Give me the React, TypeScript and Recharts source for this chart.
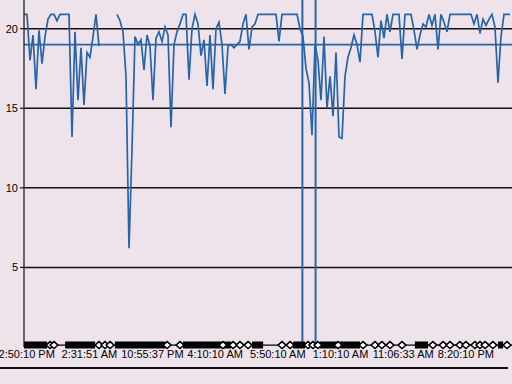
import React from "react";
import {
  ComposedChart,
  Line,
  XAxis,
  YAxis,
  CartesianGrid,
  ReferenceLine,
} from "recharts";

// main series, one reading per step (null = gap in the record)
const levelValues: (number | null)[] = [
  20.9, 20.9, 18.0, 19.6, 16.2, 19.9, 17.8, 19.5, 20.6, 20.9,
  20.9, 20.5, 20.9, 20.9, 20.9, 20.9, 13.2, 19.8, 15.5, 18.8,
  15.2, 18.5, 18.2, 19.5, 20.9, 18.9, null, null, null, null,
  null, 20.9, 20.5, 19.8, 17.0, 6.2, 12.4, 19.5, 19.0, 19.3,
  17.4, 19.6, 18.9, 15.5, 19.4, 19.8, 19.2, 20.1, 19.6, 13.8,
  19.0, 19.8, 20.3, 20.9, 20.9, 16.8, 20.0, 20.9, 20.3, 18.3,
  19.3, 16.4, 19.6, 16.2, 20.0, 20.4, 19.0, 15.9, 18.9, 19.0,
  18.8, 19.0, 19.2, 20.3, 20.9, 18.7, 20.1, 20.3, 20.9, 20.9,
  20.9, 20.9, 20.9, 20.9, 20.9, 19.2, 20.9, 20.9, 20.9, 20.9,
  20.9, 20.9, 20.0, 19.5, 17.5, 16.6, 13.3, 19.0, 18.0, 15.5,
  19.5, 15.0, 17.0, 14.5, 18.5, 13.2, 13.1, 17.0, 18.2, 18.8,
  19.6, 19.0, 17.9, 20.9, 20.9, 20.9, 20.9, 19.8, 18.2, 20.5,
  19.4, 20.9, 19.8, 20.9, 20.9, 20.9, 18.1, 20.9, 20.9, 20.9,
  19.9, 18.7, 19.6, 20.3, 20.1, 20.9, 20.2, 20.9, 18.7, 20.9,
  20.4, 19.8, 20.9, 20.9, 20.9, 20.9, 20.9, 20.9, 20.9, 20.9,
  20.3, 20.9, 19.7, 20.6, 20.2, 20.6, 20.9, 20.1, 16.6, 19.5,
  20.9, 20.9, 20.9,
];

const thresholdValue = 19;
const eventPositions = [92.8, 97.2];

const tickPositions = [0.9, 21.8, 42.8, 63.7, 84.6, 105.5, 126.4, 147.3];
const tickLabels = [
  "2:50:10 PM",
  "2:31:51 AM",
  "10:55:37 PM",
  "4:10:10 AM",
  "5:50:10 AM",
  "1:10:10 AM",
  "11:06:33 AM",
  "8:20:10 PM",
];
const yTicks = [5, 10, 15, 20];

// event markers along the time axis
const denseStarts = [0, 13.7, 30.3, 53, 76, 89.7, 98.7, 105.3, 130.3, 158];
const denseEnds = [7.7, 23.7, 47, 69, 79.7, 93.7, 104.3, 112, 134.7, 159.7];
const markerPositions = [
  8.7, 10, 25, 27, 28.7, 47.7, 52, 66.3, 69.7, 72, 74.7, 86, 88.7, 94.7,
  96.3, 98, 104.7, 113, 117, 119.3, 122, 126, 136.3, 139.7, 142, 145.3,
  147.3, 150.3, 152, 153.7, 156.3, 161,
];

const X_MAX = 162.67;
const MARK_Y = 0.12;

const levelData = levelValues.map((v, i) => ({ x: i, v }));
const bandData: { x: number; m: number | null }[] = [];
denseStarts.forEach((s, k) => {
  bandData.push({ x: s, m: MARK_Y });
  bandData.push({ x: denseEnds[k], m: MARK_Y });
  bandData.push({ x: denseEnds[k] + 0.01, m: null });
});
const baseData = [
  { x: 0, m: MARK_Y },
  { x: X_MAX, m: MARK_Y },
];
const markerData = markerPositions.map((x) => ({ x, m: MARK_Y }));

const BLUE = "#2764a8";
const FONT = "'Liberation Sans', Arial, sans-serif";

const Diamond = (props: any) => {
  const { cx, cy, index } = props;
  if (cx == null || cy == null) return <g key={`d${index}`} />;
  const w = 4;
  const h = 3.5;
  return (
    <polygon
      key={`d${index}`}
      points={`${cx - w},${cy} ${cx},${cy - h} ${cx + w},${cy} ${cx},${cy + h}`}
      fill="#ffffff"
      stroke="#000000"
      strokeWidth={1.5}
    />
  );
};

export default function App() {
  return (
    <div
      style={{
        position: "absolute",
        left: 0,
        top: 0,
        width: 512,
        height: 384,
        background: "#efe3eb",
        overflow: "hidden",
      }}
    >
      <ComposedChart
        width={512}
        height={368}
        margin={{ top: 0, right: 0, bottom: 0, left: 0 }}
      >
        <CartesianGrid
          vertical={false}
          stroke="#111111"
          strokeWidth={1.5}
          horizontalValues={yTicks}
        />
        <XAxis
          type="number"
          dataKey="x"
          domain={[0, X_MAX]}
          ticks={tickPositions}
          interval={0}
          tickFormatter={(_v: number, i: number) => tickLabels[i]}
          axisLine={false}
          tickLine={false}
          tickSize={1}
          tickMargin={2}
          height={21}
          tick={{ fill: "#000", fontSize: 11, fontFamily: FONT }}
        />
        <YAxis
          type="number"
          domain={[0, 21.8]}
          ticks={yTicks}
          interval={0}
          width={24}
          axisLine={{ stroke: "#111", strokeWidth: 1.2 }}
          tickLine={{ stroke: "#111", strokeWidth: 1.2 }}
          tickSize={4}
          tickMargin={2}
          tick={{ fill: "#000", fontSize: 11, fontFamily: FONT }}
        />
        <ReferenceLine y={thresholdValue} stroke={BLUE} strokeWidth={1.8} />
        {eventPositions.map((p) => (
          <ReferenceLine key={p} x={p} stroke={BLUE} strokeWidth={2} />
        ))}
        <Line
          data={levelData}
          dataKey="v"
          type="linear"
          stroke={BLUE}
          strokeWidth={1.7}
          dot={false}
          isAnimationActive={false}
          connectNulls={false}
        />
        <Line
          data={baseData}
          dataKey="m"
          stroke="#000"
          strokeWidth={1.2}
          dot={false}
          isAnimationActive={false}
        />
        <Line
          data={bandData}
          dataKey="m"
          stroke="#000"
          strokeWidth={7}
          strokeLinecap="butt"
          dot={false}
          connectNulls={false}
          isAnimationActive={false}
        />
        <Line
          data={markerData}
          dataKey="m"
          stroke="none"
          dot={Diamond}
          isAnimationActive={false}
        />
      </ComposedChart>
      <div
        style={{
          position: "absolute",
          left: 0,
          top: 367,
          width: 508,
          height: 2,
          background: "#111",
        }}
      />
    </div>
  );
}
